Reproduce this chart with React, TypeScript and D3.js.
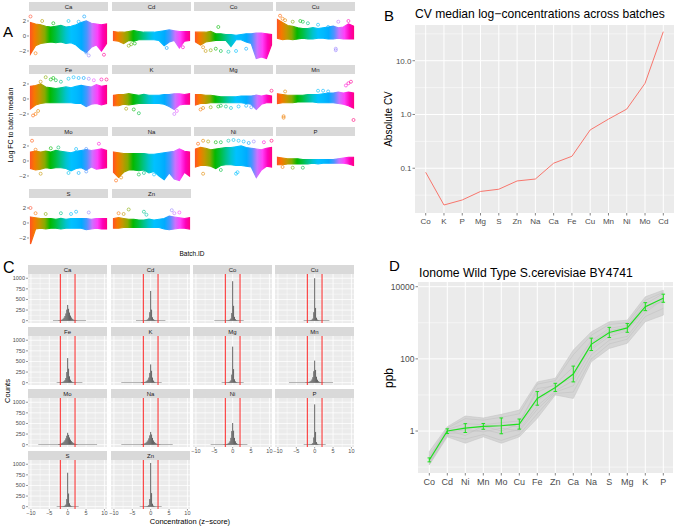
import * as d3 from "d3";

const FONT = "'Liberation Sans', Arial, sans-serif";

// ---------- panel A: log FC to batch median, per element ----------
const facetNames = ["Ca", "Cd", "Co", "Cu", "Fe", "K", "Mg", "Mn", "Mo", "Na", "Ni", "P", "S", "Zn"];
const batchBins = [0, 1, 2, 3, 4, 5, 6, 7, 8, 9, 10, 11, 12, 13, 14, 15];

// dense core of the scatter, upper / lower edge per batch bin
const bandUpper = [
  [1.8, 1.6, 1.5, 1.3, 1.2, 1.3, 1.4, 1.2, 1.3, 1.5, 1.8, 2.0, 1.7, 1.6, 1.5, 1.6],
  [0.6, 0.5, 0.5, 0.6, 0.7, 0.6, 0.5, 0.5, 0.5, 0.6, 0.7, 0.8, 0.7, 0.6, 0.6, 0.6],
  [0.5, 0.5, 0.5, 0.6, 0.3, 0.3, 0.2, 0.2, 0.1, 0.2, 0.3, 0.3, 0.4, 0.4, 0.3, 0.2],
  [2.2, 1.8, 1.4, 1.3, 1.1, 1.0, 1.0, 1.1, 1.0, 1.1, 1.2, 1.3, 1.1, 1.2, 1.6, 1.3],
  [1.7, 1.8, 2.0, 1.6, 1.5, 1.4, 1.5, 1.6, 1.5, 1.7, 1.8, 1.7, 1.6, 1.9, 1.7, 1.8],
  [0.5, 0.6, 0.6, 0.7, 0.6, 0.5, 0.6, 0.5, 0.5, 0.5, 0.6, 0.6, 0.7, 0.7, 0.6, 0.7],
  [0.6, 0.6, 0.5, 0.5, 0.4, 0.3, 0.3, 0.3, 0.3, 0.4, 0.4, 0.4, 0.5, 0.4, 0.5, 0.4],
  [0.7, 0.6, 0.5, 0.5, 0.5, 0.5, 0.6, 0.6, 0.6, 0.7, 0.8, 0.8, 0.9, 0.8, 0.9, 0.8],
  [1.2, 1.3, 1.2, 1.3, 1.2, 1.4, 1.3, 1.2, 1.1, 1.3, 1.4, 1.5, 1.4, 1.5, 1.6, 1.4],
  [1.2, 1.1, 1.0, 1.0, 1.0, 1.0, 1.0, 0.9, 0.9, 1.0, 1.1, 1.2, 1.3, 1.6, 1.3, 1.2],
  [1.6, 1.8, 1.7, 1.5, 1.6, 1.7, 1.8, 1.8, 1.9, 2.0, 1.8, 1.7, 1.6, 1.5, 1.7, 1.8],
  [0.5, 0.4, 0.3, 0.3, 0.3, 0.2, 0.2, 0.2, 0.2, 0.2, 0.2, 0.2, 0.3, 0.4, 0.5, 0.5],
  [0.8, 0.7, 0.6, 0.6, 0.6, 0.5, 0.6, 0.5, 0.6, 0.6, 0.6, 0.6, 0.5, 0.6, 0.6, 0.6],
  [0.6, 0.7, 0.6, 0.5, 0.5, 0.4, 0.4, 0.5, 0.4, 0.5, 0.6, 0.9, 0.8, 0.7, 0.6, 0.7],
];
const bandLower = [
  [-2.4, -1.3, -1.0, -0.9, -0.8, -0.9, -0.8, -1.0, -0.9, -1.2, -1.8, -2.2, -1.5, -1.2, -2.0, -1.0],
  [-0.6, -0.7, -1.0, -0.6, -0.7, -0.5, -0.5, -0.5, -0.5, -0.6, -1.3, -0.8, -0.6, -1.6, -0.7, -0.6],
  [-0.8, -1.2, -0.8, -0.7, -0.6, -0.6, -0.6, -1.4, -0.5, -0.5, -0.8, -1.0, -3.0, -2.8, -3.0, -1.2],
  [-0.3, -0.5, -0.4, -0.5, -0.4, -0.3, -0.4, -0.4, -0.3, -0.3, -0.4, -0.4, -0.3, -0.4, -0.4, -0.4],
  [-1.3, -0.8, -0.6, -0.5, -0.5, -0.5, -0.5, -0.5, -0.5, -0.6, -0.6, -1.0, -0.7, -0.6, -0.8, -0.6],
  [-0.9, -0.9, -0.7, -0.8, -0.7, -0.6, -0.6, -0.6, -0.6, -0.6, -0.7, -1.0, -1.4, -0.8, -0.7, -0.7],
  [-0.8, -0.6, -0.6, -0.5, -0.5, -0.5, -0.5, -0.5, -0.5, -0.5, -0.6, -0.7, -1.4, -0.7, -0.5, -0.5],
  [-0.6, -0.5, -0.5, -0.5, -0.4, -0.4, -0.4, -0.4, -0.5, -0.5, -0.5, -0.5, -0.6, -0.7, -0.9, -1.2],
  [-1.0, -1.2, -1.1, -0.9, -1.0, -0.9, -0.9, -1.0, -1.3, -1.0, -0.9, -1.2, -0.8, -1.1, -1.0, -0.9],
  [-1.5, -2.2, -1.5, -1.2, -1.2, -1.3, -1.2, -1.6, -1.4, -2.0, -2.5, -1.6, -2.4, -2.6, -1.5, -2.0],
  [-0.8, -0.6, -0.6, -0.7, -1.0, -0.6, -0.5, -0.5, -0.6, -0.6, -0.7, -0.8, -2.2, -1.2, -0.7, -0.8],
  [-0.5, -0.5, -0.4, -0.4, -0.4, -0.4, -0.4, -0.3, -0.4, -0.3, -0.3, -0.3, -0.3, -0.3, -0.4, -0.6],
  [-2.8, -0.8, -0.7, -0.8, -0.7, -0.7, -0.8, -0.7, -0.7, -0.7, -0.7, -0.9, -0.8, -0.7, -0.8, -0.8],
  [-0.7, -0.7, -0.6, -0.6, -0.6, -0.6, -0.6, -0.6, -0.6, -0.6, -0.8, -0.9, -0.8, -0.7, -0.7, -0.8],
];
// isolated points [batch bin, logFC]
const outliers: [number, number][][] = [
  [[0, 2.6], [1, -2.3], [2.3, 2.0], [4.5, 1.7], [7.5, 2.0], [9.5, 1.9], [10.6, 2.6], [11.5, -2.6], [14.5, -2.5], [11, -2.2]],
  [[3, -1.3], [3.5, -1.1], [4.2, -1.0], [10.5, -1.6], [13.7, -1.5]],
  [[1.5, -1.5], [2, -2.0], [3, -1.9], [4, -1.7], [5, -2.0], [6.5, -2.1], [8, -2.0], [10, -1.7], [4.5, 1.2]],
  [[0.5, 2.7], [1, 2.3], [1.5, 2.1], [3, 1.9], [4.5, 2.0], [5, 1.9], [6, 1.7], [8, 1.5], [10, 1.2], [12, 1.9], [14, 2.0], [11.5, -1.9], [11.5, -1.7]],
  [[0.5, -2.2], [1, -2.0], [1.5, -1.6], [2, 2.3], [3, 2.9], [4, 2.6], [4.5, 2.8], [5, 2.5], [6, 2.3], [7.5, 2.7], [8.5, 2.9], [9.5, 2.8], [10.5, 2.8], [11.5, 2.7], [12.5, 2.5], [14, 2.6], [15, 2.6]],
  [[2.5, -1.3], [4, -1.4], [5, -1.9], [12, -2.0], [12.5, -1.6]],
  [[1, -1.4], [1.5, -1.2], [3, -1.1], [4.5, -1.0], [5, -0.9], [6, -1.0], [7, -1.2], [8.5, -1.0], [10, -0.9], [11, -1.1], [15, 1.1]],
  [[1.2, -2.3], [1.2, -2.5], [1.5, 1.0], [8, 1.1], [9, 1.1], [10, 1.0], [13.5, 1.8], [14, 2.1], [14.5, 2.3], [15, -2.8]],
  [[0.3, 2.7], [1, 1.5], [4, 1.7], [5.5, 1.8], [9, 1.6], [11, 1.6], [13.5, 2.3], [2, -1.7], [7.5, -1.6], [9.5, -1.6], [11, -1.4]],
  [[0.5, -2.6], [1.5, -2.2], [5, -1.8], [6, -1.6], [8, -1.8]],
  [[0.5, 2.3], [1.5, 2.7], [2.5, 2.6], [4, 2.5], [5, 2.5], [6.5, 2.7], [7.5, 2.8], [8.5, 2.7], [9.5, 2.6], [10.5, 2.4], [11.5, 2.6], [13.5, 2.5], [15, 2.7], [1.5, -1.7], [5, -1.2], [8, -1.7], [8.3, -1.5]],
  [[1, -0.8], [3, -0.9], [5, -0.9]],
  [[0, 2.0], [1, 1.3], [3, 1.2], [6, 1.3], [8, 1.2], [9, 1.5], [11.5, 1.4]],
  [[1, 1.3], [2, 1.2], [3, 1.8], [6, 1.5], [6.5, 1.1], [11.5, 1.7], [12, 1.3], [13, 1.4]],
];
const aTicks = [-2, 0, 2];

// ---------- panel B: CV of median log-concentrations ----------
const cvElements = ["Co", "K", "P", "Mg", "S", "Zn", "Na", "Ca", "Fe", "Cu", "Mn", "Ni", "Mo", "Cd"];
const cvValues = [0.084, 0.0207, 0.0257, 0.037, 0.0407, 0.058, 0.063, 0.124, 0.167, 0.516, 0.82, 1.26, 3.8, 34.7];
const cvTicks = [0.1, 1, 10];
const cvTickLabels = ["0.1", "1.0", "10.0"];
const cvMinor = [0.0316, 0.316, 3.16, 31.6];

// ---------- panel C: z-score histograms ----------
const histBins = [-2.5, -2.25, -2, -1.75, -1.5, -1.25, -1, -0.75, -0.5, -0.25, 0, 0.25, 0.5, 0.75, 1, 1.25, 1.5, 1.75, 2, 2.25, 2.5];
const histCounts = [
  [5, 8, 12, 18, 28, 45, 70, 110, 170, 260, 370, 280, 190, 120, 75, 45, 28, 18, 12, 8, 5],
  [2, 3, 4, 6, 8, 12, 20, 35, 70, 200, 700, 260, 80, 35, 18, 10, 6, 4, 3, 2, 2],
  [1, 2, 3, 4, 6, 10, 15, 25, 50, 180, 930, 350, 90, 35, 15, 8, 5, 3, 2, 1, 1],
  [1, 1, 2, 3, 5, 8, 14, 25, 50, 200, 1000, 300, 70, 25, 12, 6, 4, 2, 1, 1, 1],
  [3, 4, 6, 9, 14, 22, 35, 60, 110, 250, 580, 330, 150, 70, 35, 18, 10, 6, 4, 3, 2],
  [8, 10, 12, 15, 20, 30, 45, 70, 120, 230, 430, 280, 120, 50, 20, 10, 5, 3, 2, 1, 1],
  [2, 2, 3, 5, 7, 10, 16, 28, 55, 190, 850, 320, 80, 30, 14, 7, 4, 3, 2, 1, 1],
  [6, 8, 10, 14, 20, 30, 45, 75, 130, 270, 520, 300, 140, 70, 35, 20, 12, 8, 6, 4, 3],
  [10, 14, 20, 28, 40, 55, 75, 105, 150, 210, 280, 230, 170, 120, 85, 60, 42, 30, 20, 14, 10],
  [10, 13, 18, 25, 35, 50, 70, 100, 150, 220, 300, 240, 160, 100, 65, 42, 28, 18, 12, 8, 6],
  [4, 6, 8, 12, 18, 28, 45, 80, 160, 320, 510, 330, 160, 80, 40, 20, 10, 6, 4, 3, 2],
  [1, 1, 2, 3, 4, 6, 10, 18, 40, 170, 950, 300, 60, 20, 8, 4, 2, 1, 1, 1, 1],
  [1, 2, 3, 4, 6, 9, 14, 25, 50, 180, 800, 310, 80, 30, 12, 6, 3, 2, 1, 1, 1],
  [1, 1, 2, 3, 4, 6, 10, 18, 40, 180, 1030, 320, 70, 24, 10, 5, 3, 2, 1, 1, 1],
];
// thin low tails [from, to]
const histTails = [
  [-4, 5], [-4, 4], [-5, 3], [-3, 4], [-3, 4], [-8, 3], [-3, 3],
  [-7, 5], [-8, 8], [-8, 6], [-6, 4], [-3, 3], [-3, 3], [-3, 3],
];
const cutoffs = [-2, 2];
const cXTicks = [-10, -5, 0, 5, 10];
const cXMinor = [-7.5, -2.5, 2.5, 7.5];
const cYTicks = [0, 250, 500, 750, 1000];
const cYMinor = [125, 375, 625, 875];

// ---------- panel D: ionome wild type ----------
const ionElements = ["Co", "Cd", "Ni", "Mn", "Mo", "Cu", "Fe", "Zn", "Ca", "Na", "S", "Mg", "K", "P"];
const ionMean = [0.158, 1.0, 1.21, 1.35, 1.4, 1.56, 8.0, 16.2, 38, 253, 540, 720, 2800, 4800];
const ionErrLow = [0.14, 0.85, 0.91, 1.12, 0.84, 1.13, 5.2, 12.5, 23, 170, 390, 545, 2170, 3700];
const ionErrHigh = [0.18, 1.15, 1.6, 1.62, 2.3, 2.15, 12.4, 21, 63, 375, 745, 950, 3610, 6200];
const ionLower = [0.115, 0.69, 0.46, 0.69, 0.46, 0.69, 2.25, 10, 8, 83, 195, 270, 1070, 1630];
const ionUpper = [0.27, 1.32, 2.6, 2.3, 2.9, 3.8, 23, 29, 175, 560, 1070, 1180, 5250, 8000];
const ionSamples = [
  [0.13, 0.85, 0.9, 1.1, 0.85, 1.1, 5, 13, 25, 180, 420, 600, 2300, 4200],
  [0.18, 1.1, 1.6, 1.5, 1.7, 1.9, 12, 20, 60, 320, 700, 850, 3300, 6500],
  [0.2, 1.2, 2.2, 2.0, 2.4, 3.0, 20, 25, 130, 450, 900, 1000, 4200, 7000],
  [0.12, 0.75, 0.6, 0.8, 0.55, 0.8, 3, 11, 12, 100, 260, 350, 1500, 2500],
  [0.15, 0.95, 1.3, 1.2, 1.5, 1.3, 7, 15, 40, 200, 500, 650, 2600, 5000],
  [0.16, 1.05, 0.75, 1.4, 1.0, 1.6, 15, 18, 30, 280, 600, 780, 2900, 3800],
  [0.14, 0.9, 1.1, 0.95, 1.2, 1.0, 4, 12, 18, 130, 330, 420, 1900, 4500],
];
const ionTicks = [1, 100, 10000];
const ionMinor = [0.1, 10, 1000];

// layout
const A_COL_X = [29, 112, 194, 276];
const A_ROW_Y = [2, 65, 127, 189];
const C_COL_X = [28, 111, 193, 275];
const C_ROW_Y = [265, 327, 389, 451];
const FW = 79;
const STRIP_H = 9;
const AXIS_TXT = "#4d4d4d";
const PANEL_BG = "#ebebeb";
const STRIP_BG = "#d9d9d9";

const hueOf = (bin: number) => {
  const h = 40 + (bin / 15) * 335;
  return d3.hcl(h % 360, 100, 65).formatHex();
};

function PanelA() {
  const gradStops = d3.range(0, 16, 1);
  return (
    <g>
      <defs>
        {A_COL_X.map((cx, c) => (
          <linearGradient key={c} id={`grad${c}`} gradientUnits="userSpaceOnUse" x1={cx} x2={cx + FW} y1={0} y2={0}>
            {gradStops.map((s) => (
              <stop key={s} offset={s / 15} stopColor={hueOf(s)} />
            ))}
          </linearGradient>
        ))}
      </defs>
      {facetNames.map((name, i) => {
        const col = i % 4;
        const row = Math.floor(i / 4);
        const left = A_COL_X[col];
        const top = A_ROW_Y[row] + STRIP_H;
        const x = d3.scaleLinear().domain([0, 15]).range([left + 1.5, left + FW - 1.5]);
        const y = d3.scaleLinear().domain([-3.47, 3.33]).range([top + 51, top]);
        const lower = bandLower[i];
        const area = d3
          .area<number>()
          .x((_, j) => x(batchBins[j]))
          .y0((_, j) => y(lower[j]))
          .y1((d) => y(d));
        return (
          <g key={name}>
            <rect x={left} y={A_ROW_Y[row]} width={FW} height={STRIP_H} fill={STRIP_BG} />
            <text x={left + FW / 2} y={A_ROW_Y[row] + 6.6} fontSize={6} textAnchor="middle" fill="#1a1a1a">
              {name}
            </text>
            <path d={area(bandUpper[i]) || ""} fill={`url(#grad${col})`} stroke={`url(#grad${col})`} strokeWidth={1.2} />
            {outliers[i].map(([b, v], k) => (
              <circle key={k} cx={x(b)} cy={y(v)} r={1.5} fill="none" stroke={hueOf(b)} strokeWidth={0.6} />
            ))}
            {col === 0 &&
              aTicks.map((t) => (
                <g key={t}>
                  <line x1={left - 2} x2={left} y1={y(t)} y2={y(t)} stroke="#333" strokeWidth={0.5} />
                  <text x={left - 3} y={y(t) + 2} fontSize={6} textAnchor="end" fill={AXIS_TXT}>
                    {t < 0 ? `\u2212${-t}` : t}
                  </text>
                </g>
              ))}
          </g>
        );
      })}
      <text x={192} y={256} fontSize={6.5} textAnchor="middle">Batch.ID</text>
      <text transform="translate(13,125) rotate(-90)" fontSize={7} textAnchor="middle">Log FC to batch median</text>
      <text x={3} y={37} fontSize={15}>A</text>
    </g>
  );
}

function PanelB() {
  const left = 415, right = 674, top = 25, bottom = 213;
  const x = d3.scalePoint().domain(cvElements).range([425.7, 663.3]);
  const y = d3.scaleLog().domain([0.0147, 46.2]).range([bottom, top]);
  const line = d3
    .line<number>()
    .x((_, j) => x(cvElements[j]) as number)
    .y((d) => y(d));
  return (
    <g>
      <rect x={left} y={top} width={right - left} height={bottom - top} fill={PANEL_BG} />
      {cvMinor.map((t) => (
        <line key={t} x1={left} x2={right} y1={y(t)} y2={y(t)} stroke="#fff" strokeWidth={0.5} />
      ))}
      {cvTicks.map((t) => (
        <line key={t} x1={left} x2={right} y1={y(t)} y2={y(t)} stroke="#fff" strokeWidth={1} />
      ))}
      {cvElements.map((e) => (
        <line key={e} x1={x(e)} x2={x(e)} y1={top} y2={bottom} stroke="#fff" strokeWidth={1} />
      ))}
      <path d={line(cvValues) || ""} fill="none" stroke="#F8766D" strokeWidth={1} />
      {cvTicks.map((t, k) => (
        <g key={t}>
          <line x1={left - 2.5} x2={left} y1={y(t)} y2={y(t)} stroke="#333" strokeWidth={0.6} />
          <text x={left - 3.5} y={y(t) + 3} fontSize={8} textAnchor="end" fill={AXIS_TXT}>
            {cvTickLabels[k]}
          </text>
        </g>
      ))}
      {cvElements.map((e) => (
        <g key={e}>
          <line x1={x(e)} x2={x(e)} y1={bottom} y2={bottom + 2.5} stroke="#333" strokeWidth={0.6} />
          <text x={x(e)} y={bottom + 11} fontSize={8} textAnchor="middle" fill={AXIS_TXT}>
            {e}
          </text>
        </g>
      ))}
      <text transform="translate(392,119) rotate(-90)" fontSize={10} textAnchor="middle">Absolute CV</text>
      <text x={415} y={18} fontSize={12.1}>CV median log{"\u2212"}concentrations across batches</text>
      <text x={384} y={21} fontSize={15}>B</text>
    </g>
  );
}

function PanelC() {
  return (
    <g>
      {facetNames.map((name, i) => {
        const col = i % 4;
        const row = Math.floor(i / 4);
        const left = C_COL_X[col];
        const top = C_ROW_Y[row] + STRIP_H;
        const x = d3.scaleLinear().domain([-10.8, 10.7]).range([left, left + FW]);
        const y = d3.scaleLinear().domain([-55, 1100]).range([top + 49, top]);
        const showX = i + 4 >= facetNames.length;
        const counts = histCounts[i];
        return (
          <g key={name}>
            <rect x={left} y={C_ROW_Y[row]} width={FW} height={STRIP_H} fill={STRIP_BG} />
            <text x={left + FW / 2} y={C_ROW_Y[row] + 6.6} fontSize={6} textAnchor="middle" fill="#1a1a1a">
              {name}
            </text>
            <rect x={left} y={top} width={FW} height={49} fill={PANEL_BG} />
            {cXMinor.map((t) => (
              <line key={t} x1={x(t)} x2={x(t)} y1={top} y2={top + 49} stroke="#fff" strokeWidth={0.4} />
            ))}
            {cYMinor.map((t) => (
              <line key={t} x1={left} x2={left + FW} y1={y(t)} y2={y(t)} stroke="#fff" strokeWidth={0.4} />
            ))}
            {cXTicks.map((t) => (
              <line key={t} x1={x(t)} x2={x(t)} y1={top} y2={top + 49} stroke="#fff" strokeWidth={0.8} />
            ))}
            {cYTicks.map((t) => (
              <line key={t} x1={left} x2={left + FW} y1={y(t)} y2={y(t)} stroke="#fff" strokeWidth={0.8} />
            ))}
            <rect
              x={x(histTails[i][0])}
              y={y(10)}
              width={x(histTails[i][1]) - x(histTails[i][0])}
              height={y(0) - y(10)}
              fill="#595959"
            />
            {histBins.map((b, k) => (
              <rect
                key={k}
                x={x(b - 0.125)}
                y={y(counts[k])}
                width={x(b + 0.125) - x(b - 0.125)}
                height={y(0) - y(counts[k])}
                fill="#595959"
              />
            ))}
            {cutoffs.map((c) => (
              <line key={c} x1={x(c)} x2={x(c)} y1={top} y2={top + 49} stroke="#ff2a2a" strokeWidth={1} />
            ))}
            {col === 0 &&
              cYTicks.map((t) => (
                <g key={t}>
                  <line x1={left - 2} x2={left} y1={y(t)} y2={y(t)} stroke="#333" strokeWidth={0.5} />
                  <text x={left - 3} y={y(t) + 2} fontSize={5.5} textAnchor="end" fill={AXIS_TXT}>
                    {t}
                  </text>
                </g>
              ))}
            {showX &&
              cXTicks.map((t) => (
                <g key={t}>
                  <line x1={x(t)} x2={x(t)} y1={top + 49} y2={top + 50.5} stroke="#333" strokeWidth={0.5} />
                  <text x={x(t)} y={top + 54.5} fontSize={5.5} textAnchor="middle" fill={AXIS_TXT}>
                    {t < 0 ? `\u2212${-t}` : t}
                  </text>
                </g>
              ))}
          </g>
        );
      })}
      <text x={190} y={524} fontSize={7.5} textAnchor="middle">Concentration (z{"\u2212"}score)</text>
      <text transform="translate(10,391) rotate(-90)" fontSize={7.5} textAnchor="middle">Counts</text>
      <text x={3} y={273} fontSize={16}>C</text>
    </g>
  );
}

function PanelD() {
  const left = 418, right = 673, top = 282, bottom = 473;
  const x = d3.scalePoint().domain(ionElements).range([429.3, 663.3]);
  const y = d3.scaleLog().domain([Math.pow(10, -1.163), Math.pow(10, 4.13)]).range([bottom, top]);
  const line = d3
    .line<number>()
    .x((_, j) => x(ionElements[j]) as number)
    .y((d) => y(d));
  const band = d3
    .area<number>()
    .x((_, j) => x(ionElements[j]) as number)
    .y0((_, j) => y(ionLower[j]))
    .y1((d) => y(d));
  return (
    <g>
      <rect x={left} y={top} width={right - left} height={bottom - top} fill={PANEL_BG} />
      {ionMinor.map((t) => (
        <line key={t} x1={left} x2={right} y1={y(t)} y2={y(t)} stroke="#fff" strokeWidth={0.5} />
      ))}
      {ionTicks.map((t) => (
        <line key={t} x1={left} x2={right} y1={y(t)} y2={y(t)} stroke="#fff" strokeWidth={1} />
      ))}
      {ionElements.map((e) => (
        <line key={e} x1={x(e)} x2={x(e)} y1={top} y2={bottom} stroke="#fff" strokeWidth={1} />
      ))}
      <path d={band(ionUpper) || ""} fill="#d5d5d5" stroke="#c6c6c6" strokeWidth={0.6} />
      {ionSamples.map((s, k) => (
        <path key={k} d={line(s) || ""} fill="none" stroke="#c2c2c2" strokeWidth={0.6} />
      ))}
      <path d={line(ionMean) || ""} fill="none" stroke="#1fe01f" strokeWidth={1.2} />
      {ionElements.map((e, j) => (
        <g key={e} stroke="#1fe01f" strokeWidth={1}>
          <line x1={x(e)} x2={x(e)} y1={y(ionErrLow[j])} y2={y(ionErrHigh[j])} />
          <line x1={(x(e) as number) - 1.8} x2={(x(e) as number) + 1.8} y1={y(ionErrLow[j])} y2={y(ionErrLow[j])} />
          <line x1={(x(e) as number) - 1.8} x2={(x(e) as number) + 1.8} y1={y(ionErrHigh[j])} y2={y(ionErrHigh[j])} />
        </g>
      ))}
      {ionTicks.map((t) => (
        <g key={t}>
          <line x1={left - 2.5} x2={left} y1={y(t)} y2={y(t)} stroke="#333" strokeWidth={0.6} />
          <text x={left - 3.5} y={y(t) + 3} fontSize={8.5} textAnchor="end" fill={AXIS_TXT}>
            {t}
          </text>
        </g>
      ))}
      {ionElements.map((e) => (
        <g key={e}>
          <line x1={x(e)} x2={x(e)} y1={bottom} y2={bottom + 2.5} stroke="#333" strokeWidth={0.6} />
          <text x={x(e)} y={bottom + 12} fontSize={9} textAnchor="middle" fill={AXIS_TXT}>
            {e}
          </text>
        </g>
      ))}
      <text transform="translate(393,378) rotate(-90)" fontSize={12} textAnchor="middle">ppb</text>
      <text x={419} y={277} fontSize={12.2}>Ionome Wild Type S.cerevisiae BY4741</text>
      <text x={389} y={271} fontSize={15}>D</text>
    </g>
  );
}

export default function App() {
  return (
    <svg
      width={676}
      height={527}
      style={{ position: "absolute", left: 0, top: 0, background: "#fff" }}
      fontFamily={FONT}
    >
      <PanelA />
      <PanelB />
      <PanelC />
      <PanelD />
    </svg>
  );
}
